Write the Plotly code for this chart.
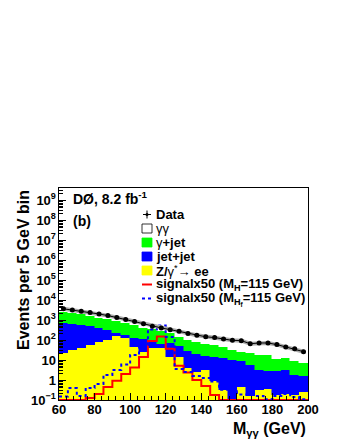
import plotly.graph_objects as go

# ---------------- data ----------------
bin_edges = [60, 65, 70, 75, 80, 85, 90, 95, 100, 105, 110, 115, 120, 125, 130,
             135, 140, 145, 150, 155, 160, 165, 170, 175, 180, 185, 190, 195, 200]
x_ticks = [60, 80, 100, 120, 140, 160, 180, 200]

data_counts = [3630, 3160, 2750, 2340, 2000, 1660, 1350, 1070, 830, 650, 490, 400, 330, 270,
               214, 174, 145, 132, 112, 96, 93, 65, 71, 71, 59, 45, 37, 26]
bkg_gg = [1232, 923, 759, 722, 677, 588, 498, 364, 257, 239, 151, 123, 117, 131,
          116, 94.4, 78.4, 75.6, 69.5, 62.4, 69.3, 42.2, 52.2, 53, 47.7, 32.7, 28.7, 19.1]
bkg_gjet = [1691, 1608, 1445, 1143, 920, 741, 622, 522, 443, 297, 263, 215, 143, 90,
            69.5, 60.3, 51, 42.1, 29.5, 22.6, 15.5, 16.5, 15.3, 14.8, 8.5, 8.8, 6.65, 5.73]
bkg_jetjet = [686, 601, 510, 425, 322, 226, 71, 66, 87, 86, 36, 22, 57, 34,
              24, 16.6, 11.9, 13.2, 12.9, 10.5, 8.1, 5.7, 3.0, 2.6, 2.5, 2.95, 1.68, 1.26]
bkg_zee = [22.4, 30, 40, 54, 76, 105, 158, 120, 45, 24, 40, 38, 14, 14,
           4.2, 2.5, 3.2, 0.89, 0.32, 0, 0.43, 0.16, 0.33, 0.37, 0.17, 0.21, 0.18, 0.25]
signal_h = [0.1, 0.1, 0.1, 0.126, 0.2, 0.45, 0.93, 2.0, 4.2, 14.1, 89, 151, 37, 5.2,
            2.4, 1.0, 0.5, 0.18, 0.1, 0.1, 0.1, 0.1, 0.1, 0.1, 0.1, 0.1, 0.1, 0.1]
signal_hf = [0.15, 0.4, 0.16, 0.4, 0.63, 1.8, 3.2, 5.9, 17.8, 56, 331, 525, 141, 3.5,
             2.5, 1.6, 1.26, 0.85, 0.33, 0.27, 0.19, 0.19, 0.16, 0.11, 0.16, 0.2, 0.14, 0.11]

# ---------------- figure ----------------
centers = [(a + b) / 2 for a, b in zip(bin_edges[:-1], bin_edges[1:])]
widths = [b - a for a, b in zip(bin_edges[:-1], bin_edges[1:])]
FONT = "Liberation Sans"

fig = go.Figure()
for vals, col in [(bkg_zee, "#ffff00"), (bkg_jetjet, "#0000ff"),
                  (bkg_gjet, "#00ff00"), (bkg_gg, "#ffffff")]:
    fig.add_trace(go.Bar(x=centers, y=vals, width=widths,
                         marker=dict(color=col, line=dict(color=col, width=0.5)),
                         showlegend=False, hoverinfo="skip"))

def step(vals):
    return list(bin_edges), list(vals) + [vals[-1]]

sx, sy = step(signal_h)
fig.add_trace(go.Scatter(x=sx, y=sy, mode="lines", line_shape="hv",
                         line=dict(color="#ff0000", width=2), showlegend=False))
sx, sy = step(signal_hf)
fig.add_trace(go.Scatter(x=sx, y=sy, mode="lines", line_shape="hv",
                         line=dict(color="#0000ff", width=2, dash="dot"), showlegend=False))

fig.add_trace(go.Scatter(x=centers, y=data_counts, mode="lines",
                         line=dict(color="#aaaaaa", width=4), showlegend=False))
fig.add_trace(go.Scatter(x=centers, y=data_counts, mode="lines+markers",
                         line=dict(color="black", width=1),
                         marker=dict(color="black", size=5), showlegend=False))

L, R, T, B = 51, 40, 180, 48
W, H = 340, 440
pw, ph = W - L - R, H - T - B

def px(x):
    return (x - L) / pw

def py(y):
    return (H - B - y) / ph

shapes = []
anns = []

# manual legend
rows = [206.5, 220.5, 234.5, 248.5, 262.5, 276.5, 290.5]
labels = ["<b>Data</b>", "γγ", "γ<b>+jet</b>", "<b>jet+jet</b>",
          "<b>Z/</b>γ<sup>*</sup>→ <b>ee</b>",
          "<b>signalx50 (M<sub>H</sub>=115 GeV)</b>",
          "<b>signalx50 (M<sub>H<sub>f</sub></sub>=115 GeV)</b>"]
for yr, lab in zip(rows, labels):
    anns.append(dict(x=px(146), y=py(yr), xref="paper", yref="paper", text=lab,
                     showarrow=False, xanchor="left", yanchor="middle",
                     font=dict(family=FONT, size=13, color="black")))
# data marker
shapes.append(dict(type="line", xref="paper", yref="paper", x0=px(135), x1=px(143),
                   y0=py(rows[0]), y1=py(rows[0]), line=dict(color="black", width=1)))
shapes.append(dict(type="line", xref="paper", yref="paper", x0=px(139), x1=px(139),
                   y0=py(rows[0] - 4), y1=py(rows[0] + 4), line=dict(color="black", width=1)))
shapes.append(dict(type="circle", xref="paper", yref="paper", x0=px(137.5), x1=px(140.5),
                   y0=py(rows[0] - 1.5), y1=py(rows[0] + 1.5), fillcolor="black",
                   line=dict(color="black", width=0)))
for yr, col in zip(rows[1:5], ["#ffffff", "#00ff00", "#0000ff", "#ffff00"]):
    shapes.append(dict(type="rect", xref="paper", yref="paper", x0=px(134), x1=px(144),
                       y0=py(yr + 4.5), y1=py(yr - 4.5), fillcolor=col,
                       line=dict(color="black" if col == "#ffffff" else col, width=0.8)))
shapes.append(dict(type="line", xref="paper", yref="paper", x0=px(134), x1=px(144),
                   y0=py(rows[5]), y1=py(rows[5]), line=dict(color="#ff0000", width=2)))
shapes.append(dict(type="line", xref="paper", yref="paper", x0=px(134), x1=px(144),
                   y0=py(rows[6]), y1=py(rows[6]),
                   line=dict(color="#0000ff", width=2, dash="dot")))

anns.append(dict(x=px(63), y=py(190), xref="paper", yref="paper",
                 text="<b>DØ, 8.2 fb<sup>-1</sup></b>", showarrow=False,
                 xanchor="left", yanchor="middle", font=dict(family=FONT, size=14, color="black")))
anns.append(dict(x=px(63), y=py(213), xref="paper", yref="paper",
                 text="<b>(b)</b>", showarrow=False,
                 xanchor="left", yanchor="middle", font=dict(family=FONT, size=14, color="black")))
anns.append(dict(x=1.0, y=py(421), xref="paper", yref="paper",
                 text="<b>M<sub>γγ</sub> (GeV)</b>", showarrow=False,
                 xanchor="right", yanchor="middle", font=dict(family=FONT, size=16, color="black")))
anns.append(dict(x=px(15), y=1.0, xref="paper", yref="paper", textangle=-90,
                 text="<b>Events per 5 GeV bin</b>", showarrow=False,
                 xanchor="center", yanchor="top", font=dict(family=FONT, size=16, color="black")))

fig.update_layout(
    width=W, height=H, margin=dict(l=L, r=R, t=T, b=B, pad=0),
    plot_bgcolor="white", paper_bgcolor="white",
    barmode="stack", bargap=0, showlegend=False,
    shapes=shapes, annotations=anns,
    xaxis=dict(range=[60, 200], tickvals=x_ticks, ticks="inside", ticklen=7,
               tickwidth=1, tickcolor="black", showline=True, linecolor="black",
               linewidth=1, mirror=True, showgrid=False, zeroline=False,
               ticklabelstandoff=-3,
               tickfont=dict(family=FONT, size=13, color="black", weight="bold"),
               minor=dict(ticks="inside", ticklen=4, tick0=60, dtick=4, tickcolor="black",
                          showgrid=False)),
    yaxis=dict(type="log", range=[-1, 9.6], dtick=1, exponentformat="power",
               ticks="inside", ticklen=7, tickwidth=1, tickcolor="black",
               showline=True, linecolor="black", linewidth=1, mirror=True,
               showgrid=False, zeroline=False,
               tickfont=dict(family=FONT, size=10.4, color="black", weight="bold"),
               minor=dict(ticks="inside", ticklen=4, dtick="D1", tickcolor="black",
                          showgrid=False)),
)

fig.write_html("out.html")
